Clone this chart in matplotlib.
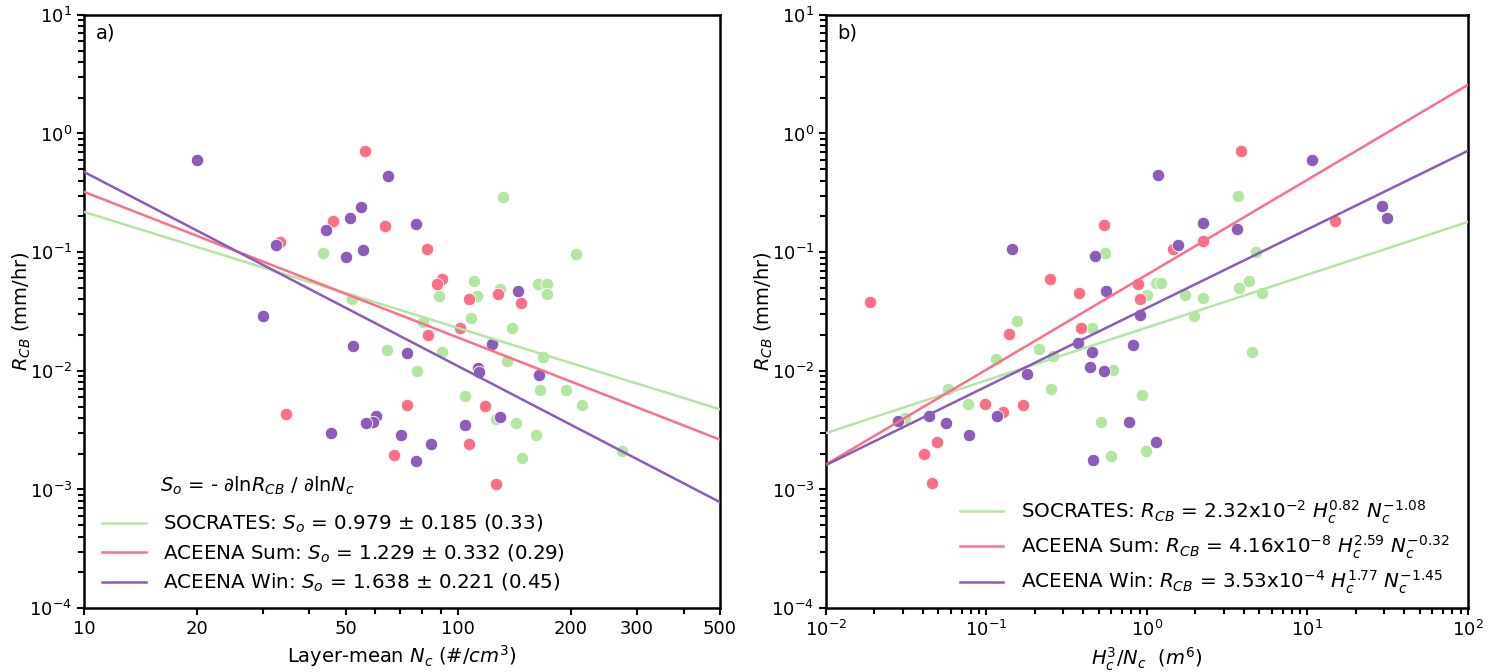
import numpy as np
import matplotlib
matplotlib.use('Agg')
from matplotlib import pyplot as plt
from matplotlib import ticker

# colours per campaign
c_soc = '#b3e6a3'
c_sum = '#fd6e87'
c_win = '#8b5cb8'

# ---- panel a: layer-mean Nc vs R_CB ----
soc_nc = [132, 206, 43.6, 110, 89, 112, 129, 163, 173, 173, 51.9, 108, 80.5, 139,
          90.6, 64.5, 135, 168, 77.6, 165, 194, 214, 104, 126, 143, 161, 148, 274]
soc_r = [0.29, 0.097, 0.098, 0.057, 0.043, 0.043, 0.049, 0.054, 0.054, 0.044, 0.040,
         0.028, 0.026, 0.023, 0.0144, 0.015, 0.0121, 0.0131, 0.0100, 0.0069, 0.0069,
         0.0052, 0.0061, 0.0039, 0.0036, 0.0029, 0.00184, 0.0021]

sum_nc = [56.2, 46.4, 63.7, 33.4, 82.6, 90.6, 87.8, 107, 128, 147, 101, 83, 73, 118,
          34.7, 67.3, 107, 125.7]
sum_r = [0.71, 0.183, 0.166, 0.122, 0.106, 0.059, 0.054, 0.040, 0.044, 0.037, 0.023,
         0.020, 0.0052, 0.0051, 0.0043, 0.00195, 0.0024, 0.00111]

win_nc = [20.1, 64.9, 54.9, 51.3, 77.1, 44.4, 32.6, 55.5, 50.0, 144, 30.1, 52.2, 122.7,
          72.9, 113.2, 113.9, 164, 128.9, 104.4, 60.2, 59.1, 56.6, 45.6, 70.3, 84.6, 77.1]
win_r = [0.60, 0.44, 0.24, 0.194, 0.173, 0.154, 0.115, 0.104, 0.091, 0.047, 0.029,
         0.0162, 0.0168, 0.0141, 0.0106, 0.0098, 0.0092, 0.0041, 0.0035, 0.0042, 0.0037,
         0.0036, 0.0030, 0.0029, 0.0024, 0.00173]

# fits: log10 R = a - s*log10 Nc
fit_a = [0.318, 0.737, 1.314]
fit_s = [0.979, 1.229, 1.638]
labels_a = [r'SOCRATES: $S_o$ = 0.979 $\pm$ 0.185 (0.33)',
            r'ACEENA Sum: $S_o$ = 1.229 $\pm$ 0.332 (0.29)',
            r'ACEENA Win: $S_o$ = 1.638 $\pm$ 0.221 (0.45)']

# ---- panel b: H^3/Nc vs R_CB ----
soc_h = [3.67, 0.548, 4.75, 0.156, 0.455, 0.213, 0.261, 0.615, 0.114, 0.0573, 0.254,
         0.931, 0.0762, 0.031, 0.518, 0.597, 0.986, 1.00, 1.14, 1.22, 1.72, 2.23, 3.73,
         4.30, 5.18, 1.96, 4.49]
soc_rb = [0.298, 0.098, 0.100, 0.0263, 0.023, 0.0153, 0.0133, 0.0102, 0.0126, 0.0070,
          0.0070, 0.0062, 0.0053, 0.0040, 0.0037, 0.0019, 0.0021, 0.0435, 0.055, 0.055,
          0.0435, 0.041, 0.050, 0.057, 0.045, 0.029, 0.0144]

sum_h = [3.84, 0.541, 14.9, 2.23, 1.45, 0.250, 0.378, 0.879, 0.906, 0.389, 0.139,
         0.0973, 0.170, 0.126, 0.0489, 0.0406, 0.0455, 0.0187]
sum_rb = [0.713, 0.170, 0.183, 0.124, 0.106, 0.059, 0.045, 0.054, 0.040, 0.023, 0.0204,
          0.0053, 0.0052, 0.0045, 0.0025, 0.0020, 0.00113, 0.038]

win_h = [10.7, 1.17, 29.2, 31.4, 2.23, 3.62, 1.56, 0.145, 0.475, 0.556, 0.906, 0.818,
         0.372, 0.455, 0.443, 0.541, 0.180, 0.117, 0.0437, 0.028, 0.0556, 0.0783, 0.773,
         0.462, 1.14]
win_rb = [0.599, 0.448, 0.245, 0.194, 0.176, 0.157, 0.115, 0.106, 0.093, 0.047, 0.0295,
          0.0165, 0.0171, 0.0144, 0.0108, 0.0100, 0.0094, 0.0042, 0.0042, 0.0038, 0.0036,
          0.0029, 0.0037, 0.00177, 0.0025]

# fits: log10 R = b0 + b1*log10 X
fitb_0 = [-1.635, -1.19, -1.47]
fitb_1 = [0.445, 0.80, 0.662]
labels_b = [r'SOCRATES: $R_{CB}$ = 2.32x10$^{-2}$ $H_c^{0.82}$ $N_c^{-1.08}$',
            r'ACEENA Sum: $R_{CB}$ = 4.16x10$^{-8}$ $H_c^{2.59}$ $N_c^{-0.32}$',
            r'ACEENA Win: $R_{CB}$ = 3.53x10$^{-4}$ $H_c^{1.77}$ $N_c^{-1.45}$']

colors = [c_soc, c_sum, c_win]

fig = plt.figure(figsize=(15.05, 6.72), dpi=100)
ax1 = fig.add_axes([0.0558, 0.095, 0.4226, 0.883])
ax2 = fig.add_axes([0.5488, 0.095, 0.4266, 0.883])

def style(ax):
    for sp in ax.spines.values():
        sp.set_linewidth(1.8)
    ax.tick_params(which='both', direction='out', width=1.5, labelsize=13)
    ax.tick_params(which='major', length=5)
    ax.tick_params(which='minor', length=4)
    ax.set_ylim(1e-4, 10)
    ax.set_ylabel(r'$R_{CB}$ (mm/hr)', fontsize=14, labelpad=-3)

mk = dict(s=80, edgecolors='white', linewidths=0.6, zorder=2)

# panel a
ax1.set_xscale('log')
ax1.set_yscale('log')
for xs, ys, c in zip([soc_nc, sum_nc, win_nc], [soc_r, sum_r, win_r], colors):
    ax1.scatter(xs, ys, color=c, **mk)
xx = np.logspace(1, np.log10(500), 50)
for a, s, c, lab in zip(fit_a, fit_s, colors, labels_a):
    ax1.plot(xx, 10**(a - s*np.log10(xx)), color=c, lw=1.8, label=lab, zorder=3)
ax1.set_xlim(10, 500)
ax1.set_xticks([10, 20, 50, 100, 200, 300, 500])
ax1.xaxis.set_major_formatter(ticker.ScalarFormatter())
ax1.xaxis.set_minor_formatter(ticker.NullFormatter())
style(ax1)
ax1.set_xlabel(r'Layer-mean $N_c$ $(\#/cm^3)$', fontsize=14)
ax1.text(0.018, 0.970, 'a)', transform=ax1.transAxes, fontsize=14, va='center')
ax1.text(0.119, 0.2066, r'$S_o$ = - $\partial$ln$R_{CB}$ / $\partial$ln$N_c$',
         transform=ax1.transAxes, fontsize=14, va='center')
ax1.legend(loc='lower left', bbox_to_anchor=(0.0, -0.006), frameon=False, fontsize=14.3,
           handlelength=2.2, handletextpad=0.9, labelspacing=0.35)

# panel b
ax2.set_xscale('log')
ax2.set_yscale('log')
for xs, ys, c in zip([soc_h, sum_h, win_h], [soc_rb, sum_rb, win_rb], colors):
    ax2.scatter(xs, ys, color=c, **mk)
xb = np.logspace(-2, 2, 50)
for b0, b1, c, lab in zip(fitb_0, fitb_1, colors, labels_b):
    ax2.plot(xb, 10**(b0 + b1*np.log10(xb)), color=c, lw=1.8, label=lab, zorder=3)
ax2.set_xlim(1e-2, 1e2)
ax2.xaxis.set_major_locator(ticker.LogLocator(base=10, numticks=10))
ax2.xaxis.set_minor_locator(ticker.LogLocator(base=10, subs=np.arange(2, 10), numticks=20))
style(ax2)
ax2.set_xlabel(r'$H_c^3/N_c$  $(m^6)$', fontsize=14)
ax2.text(0.018, 0.970, 'b)', transform=ax2.transAxes, fontsize=14, va='center')
ax2.legend(loc='lower right', bbox_to_anchor=(1.0, -0.01), frameon=False, fontsize=14.3,
           handlelength=2.2, handletextpad=0.9, labelspacing=0.4)

plt.savefig('out.png', dpi=100)
